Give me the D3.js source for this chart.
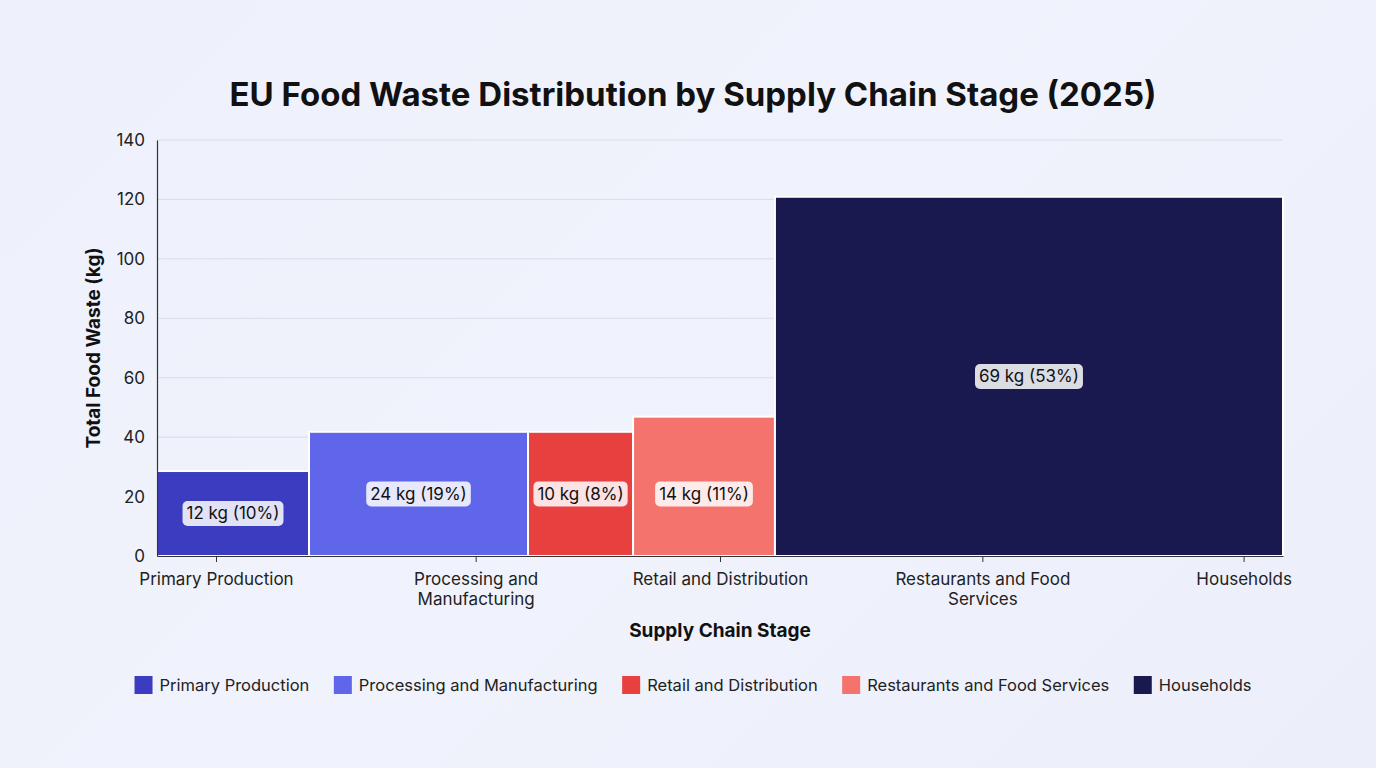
<!DOCTYPE html>
<html>
<head>
<meta charset="utf-8">
<script src="https://cdn.jsdelivr.net/npm/d3@7/dist/d3.min.js"></script>
<style>
  html, body { margin: 0; padding: 0; }
  body { width: 1376px; height: 768px; overflow: hidden;
         background: linear-gradient(135deg, #eef1fb 0%, #f0f3fc 50%, #eceffa 100%);
         font-family: Inter, "Noto Sans", sans-serif; }
  svg { display: block; }
</style>
</head>
<body>
<svg id="chart" width="1376" height="768"></svg>
<script>
// ---- data ----
const stages = ["Primary Production", "Processing and Manufacturing", "Retail and Distribution", "Restaurants and Food Services", "Households"];
const wasteKg = [12, 24, 10, 14, 69];
const sharePct = [10, 19, 8, 11, 53];
const barHeight = [28.6, 41.8, 41.8, 46.9, 120.9];
const barWidth = [13.5, 19.45, 9.33, 12.6, 45.12];      // x-axis units (sum 100)
const labelLevel = [14.3, 20.9, 20.9, 20.9, 60.4];      // y-axis units where value labels sit
const tickPos = [5.24, 28.3, 50.0, 73.3, 96.5];          // x-axis units of category ticks
const yTicks = [0, 20, 40, 60, 80, 100, 120, 140];
const colors = ["#3c3cc0", "#6066ea", "#e7403f", "#f4736d", "#19194f"];

// ---- layout ----
const svg = d3.select("#chart");
const margin = { left: 157, right: 1376 - 1283, top: 140, bottom: 768 - 556 };
const W = 1376, H = 768;
const x = d3.scaleLinear().domain([0, 100]).range([margin.left, W - margin.right]);
const y = d3.scaleLinear().domain([0, 140]).range([H - margin.bottom, margin.top]);

// title
svg.append("text")
  .attr("x", 693).attr("y", 106)
  .attr("text-anchor", "middle")
  .attr("font-size", 33).attr("font-weight", 700)
  .attr("fill", "#111")
  .text("EU Food Waste Distribution by Supply Chain Stage (2025)");

// gridlines
svg.append("g")
  .selectAll("line").data(yTicks).join("line")
  .attr("x1", x(0)).attr("x2", x(100))
  .attr("y1", d => y(d)).attr("y2", d => y(d))
  .attr("stroke", "#d9dde8").attr("stroke-width", 1);

// bars
const starts = barWidth.map((w, i) => d3.sum(barWidth.slice(0, i)));
const data = stages.map((s, i) => ({ s, kg: wasteKg[i], pct: sharePct[i], h: barHeight[i], ly: labelLevel[i], x0: starts[i], x1: starts[i] + barWidth[i], c: colors[i] }));

svg.append("g").selectAll("rect").data(data).join("rect")
  .attr("x", d => x(d.x0)).attr("width", d => x(d.x1) - x(d.x0))
  .attr("y", d => y(d.h)).attr("height", d => y(0) - y(d.h))
  .attr("fill", d => d.c)
  .attr("stroke", "#ffffff").attr("stroke-width", 2);

// y axis
const yAxis = svg.append("g")
  .attr("transform", `translate(${x(0)},0)`)
  .call(d3.axisLeft(y).tickValues(yTicks).tickSize(0).tickPadding(12));
yAxis.select(".domain").attr("stroke", "#333").attr("stroke-width", 1.2);
yAxis.selectAll("text").attr("font-size", 17).attr("fill", "#222").attr("font-family", "Inter, sans-serif");

// x axis
const xAxis = svg.append("g")
  .attr("transform", `translate(0,${y(0)})`)
  .call(d3.axisBottom(x).tickValues(tickPos).tickFormat((d, i) => stages[i]).tickSize(6).tickPadding(11).tickSizeOuter(0));
xAxis.select(".domain").attr("stroke", "#333").attr("stroke-width", 1.2);
xAxis.selectAll(".tick line").attr("stroke", "#333");
xAxis.selectAll("text").attr("font-size", 17).attr("fill", "#222").attr("font-family", "Inter, sans-serif");

// wrap x labels
function wrap(sel, width) {
  sel.each(function () {
    const t = d3.select(this);
    const words = t.text().split(/\s+/);
    const yy = t.attr("y"), dy = parseFloat(t.attr("dy")) || 0;
    t.text(null);
    let line = [], lineNo = 0;
    let ts = t.append("tspan").attr("x", 0).attr("y", yy).attr("dy", dy + "em");
    for (const w of words) {
      line.push(w);
      ts.text(line.join(" "));
      if (ts.node().getComputedTextLength() > width && line.length > 1) {
        line.pop();
        ts.text(line.join(" "));
        line = [w];
        ts = t.append("tspan").attr("x", 0).attr("y", yy).attr("dy", (++lineNo * 1.2 + dy) + "em").text(w);
      }
    }
  });
}
xAxis.selectAll(".tick text").call(wrap, 190);

// axis titles
svg.append("text")
  .attr("transform", `translate(100,${(y(0) + y(140)) / 2}) rotate(-90)`)
  .attr("text-anchor", "middle")
  .attr("font-size", 19).attr("font-weight", 700).attr("fill", "#111")
  .text("Total Food Waste (kg)");
svg.append("text")
  .attr("x", (x(0) + x(100)) / 2).attr("y", 637)
  .attr("text-anchor", "middle")
  .attr("font-size", 19).attr("font-weight", 700).attr("fill", "#111")
  .text("Supply Chain Stage");

// value labels
const lab = svg.append("g").selectAll("g").data(data).join("g")
  .attr("transform", d => `translate(${(x(d.x0) + x(d.x1)) / 2},${y(d.ly)})`);
lab.append("rect").attr("class", "bg");
lab.append("text")
  .attr("text-anchor", "middle").attr("dy", "0.35em")
  .attr("font-size", 17).attr("fill", "#111")
  .text(d => `${d.kg} kg (${d.pct}%)`);
lab.each(function () {
  const g = d3.select(this);
  const bb = g.select("text").node().getBBox();
  g.select("rect.bg")
    .attr("x", bb.x - 4).attr("y", -12.5)
    .attr("width", bb.width + 8).attr("height", 25)
    .attr("rx", 5)
    .attr("fill", "rgba(255,255,255,0.85)");
});

// legend
const leg = svg.append("g");
let lx = 0;
const gap = 24.5;
stages.forEach((s, i) => {
  const g = leg.append("g");
  g.append("rect").attr("x", 0).attr("y", -9).attr("width", 18).attr("height", 18).attr("fill", colors[i]);
  const t = g.append("text").attr("x", 25).attr("dy", "0.35em").attr("font-size", 16.5).attr("fill", "#222").text(s);
  const w = 25 + t.node().getComputedTextLength();
  g.attr("transform", `translate(${lx},0)`);
  lx += w + gap;
});
const totalW = lx - gap;
leg.attr("transform", `translate(${693 - totalW / 2},685)`);
</script>
</body>
</html>
